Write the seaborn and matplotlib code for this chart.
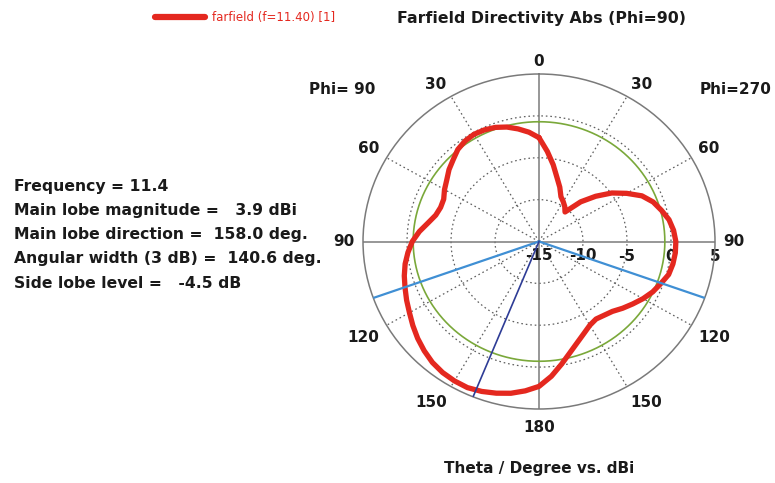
import numpy as np
import pandas as pd
import matplotlib
matplotlib.use("Agg")
import matplotlib.pyplot as plt
from matplotlib.lines import Line2D
import seaborn as sns

# ---------------- data ----------------
theta_deg = [0, 5, 10, 15, 20, 25, 30, 35, 40, 45, 50, 55, 60, 65, 70, 75, 80, 85,
             90, 95, 100, 105, 110, 115, 120, 125, 130, 135, 140, 145, 150, 155, 160,
             165, 170, 175, 180, 185, 190, 195, 200, 205, 210, 215, 220, 225, 230,
             235, 240, 245, 250, 255, 260, 265, 270, 275, 280, 285, 290, 295, 300,
             305, 310, 315, 320, 325, 330, 335, 340, 345, 350, 355, 360]
directivity_db = [-2.6, -1.9, -1.35, -0.85, -0.5, -0.3, -0.22, -0.35, -0.65, -1.2,
                  -1.65, -2.2, -2.6, -3.05, -3.1, -2.85, -2.2, -1.35,
                  -0.6, -0.05, 0.45, 0.85, 1.2, 1.6, 2.0, 2.5, 3.0, 3.45, 3.85, 4.1,
                  4.22, 4.25, 4.05, 3.75, 3.4, 2.9, 2.3, 1.15, -0.15, -1.3, -2.2, -2.9,
                  -3.45, -3.7, -3.5, -3.2, -2.6, -2.0, -1.35, -0.75, -0.28, 0.25,
                  0.45, 0.55, 0.55, 0.35, 0.0, -0.6, -1.2, -2.1, -3.5, -4.9, -6.6,
                  -8.3, -10.4, -9.9, -9.5, -9.1, -8.1, -7.1, -5.7, -4.2, -2.6]
beam_edges_deg = [109.7, 250.3]
main_lobe_deg = 158.0
level_3db = -0.7
r_ticks = [-15, -10, -5, 0, 5]
r_ticks_labels = ["-15", "-10", "-5", "0", "5"]
angle_ticks = [0, 30, 60, 90, 120, 150, 180, 210, 240, 270, 300, 330]
angle_labels = ["0", "30", "60", "90", "120", "150", "180", "150", "120", "90", "60", "30"]
legend_label = "farfield (f=11.40) [1]"
title_text = "Farfield Directivity Abs (Phi=90)"
xlabel_text = "Theta / Degree vs. dBi"
info_lines = ["Frequency = 11.4",
              "Main lobe magnitude =   3.9 dBi",
              "Main lobe direction =  158.0 deg.",
              "Angular width (3 dB) =  140.6 deg.",
              "Side lobe level =   -4.5 dB"]

# ---------------- style ----------------
sns.set_theme(style="white")
plt.rcParams["font.family"] = ["DejaVu Sans"]

RED = "#e4281f"
GREEN = "#7aa83a"
LBLUE = "#3f8fd4"
DBLUE = "#2e3c96"
GRID = "#5e5e5e"
TXT = "#1a1a1a"
FS = 11

fig = plt.figure(figsize=(7.75, 4.83), dpi=100)
fig.patch.set_facecolor("white")
ax = fig.add_axes([0.4684, 0.1532, 0.4542, 0.6936], projection="polar")
ax.set_aspect("auto")
ax.set_theta_zero_location("N")
ax.set_theta_direction(1)
ax.set_ylim(r_ticks[0], r_ticks[-1])
ax.grid(False)
ax.set_xticks([])
ax.set_yticks([])
ax.spines["polar"].set_color("#7a7a7a")
ax.spines["polar"].set_linewidth(1.1)

full = np.linspace(0, 2 * np.pi, 721)
# dotted rings
for r in r_ticks[1:-1]:
    ax.plot(full, np.full_like(full, r), color=GRID, lw=0.9, ls=(0, (1.3, 2.3)), zorder=1)
# spokes
for a in angle_ticks:
    t = np.deg2rad(a)
    if a % 90 == 0:
        ax.plot([t, t], [r_ticks[0], r_ticks[-1]], color="#7a7a7a", lw=1.1, zorder=1)
    else:
        ax.plot([t, t], [r_ticks[0], r_ticks[-1]], color=GRID, lw=0.9,
                ls=(0, (1.3, 2.3)), zorder=1)

# 3 dB circle
ax.plot(full, np.full_like(full, level_3db), color=GREEN, lw=1.2, zorder=2)

# farfield curve
df = pd.DataFrame({"theta": np.deg2rad(theta_deg), "dB": directivity_db})
sns.lineplot(data=df, x="theta", y="dB", ax=ax, color=RED, lw=3.8, sort=False,
             estimator=None, zorder=3)
ax.set_xlabel("")
ax.set_ylabel("")

# beam lines
for b in beam_edges_deg:
    ax.plot([np.deg2rad(b)] * 2, [r_ticks[0], r_ticks[-1]], color=LBLUE, lw=1.6, zorder=4)
ax.plot([np.deg2rad(main_lobe_deg)] * 2, [r_ticks[0], r_ticks[-1]], color=DBLUE, lw=1.2, zorder=4)

ax.set_ylim(r_ticks[0], r_ticks[-1])

# angle labels (label placement offsets: angle shift, radius)
label_place = {0: (0, 6.55), 30: (2, 7.1), 60: (0, 7.3), 90: (0, 7.15),
               120: (0, 8.0), 150: (-2.5, 7.75), 180: (0, 7.15)}
for a, lab in zip(angle_ticks, angle_labels):
    key = a if a <= 180 else 360 - a
    dth, rr = label_place[key]
    if a > 180:
        dth = -dth
    ax.text(np.deg2rad(a + dth), rr, lab, ha="center", va="center", fontsize=FS,
            fontweight="bold", color=TXT, clip_on=False)

# radial labels
for r, lab in zip(r_ticks, r_ticks_labels):
    ax.annotate(lab, xy=(np.deg2rad(270), r), xytext=(0, -14.5), textcoords="offset pixels",
                ha="center", va="center", fontsize=FS, fontweight="bold",
                color=TXT, annotation_clip=False, zorder=2.5)

# legend
handle = Line2D([0], [0], color=RED, lw=4.5, solid_capstyle="round")
fig.legend([handle], [legend_label], loc="center left",
           bbox_to_anchor=(155 / 775, 1 - 18 / 483), frameon=False, fontsize=8.5,
           labelcolor=RED, handlelength=4.2, handletextpad=0.6, borderpad=0,
           borderaxespad=0)

W, H = 775, 483
def ftext(x, y, s, **kw):
    fig.text(x / W, 1 - y / H, s, **kw)

ftext(541.5, 18, title_text, ha="center", va="center", fontsize=11.3, fontweight="bold",
      color=TXT)
ftext(342, 90, "Phi= 90", ha="center", va="center", fontsize=FS, fontweight="bold",
      color=TXT)
ftext(736, 90, "Phi=270", ha="center", va="center", fontsize=FS, fontweight="bold",
      color=TXT)
ftext(539.5, 468, xlabel_text, ha="center", va="center", fontsize=FS, fontweight="bold",
      color=TXT)
for i, line in enumerate(info_lines):
    ftext(14, 186 + i * 24.3, line, ha="left", va="center", fontsize=11.25,
          fontweight="bold", color=TXT)

fig.savefig("out.png", dpi=100, facecolor="white")
